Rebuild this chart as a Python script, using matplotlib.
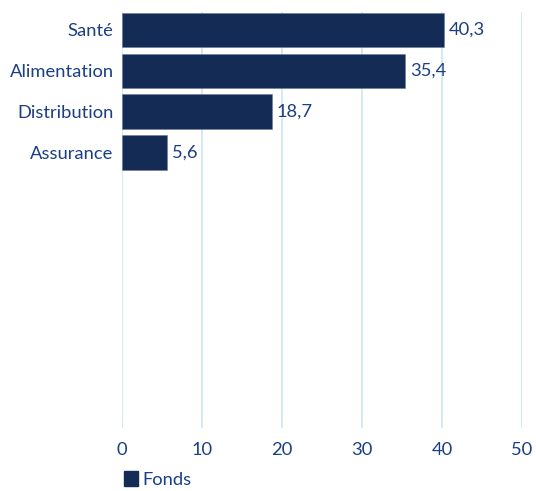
import matplotlib.pyplot as plt
from matplotlib.patches import Patch

categories = ["Santé", "Alimentation", "Distribution", "Assurance"]
values = [40.3, 35.4, 18.7, 5.6]
value_labels = ["40,3", "35,4", "18,7", "5,6"]
xticks = [0, 10, 20, 30, 40, 50]
series_name = "Fonds"

BAR = "#142b56"
TEXT = "#1a3f85"
GRID = "#cfe5ee"
FS = 13.2

plt.rcParams["font.family"] = ["Lato", "DejaVu Sans"]

fig = plt.figure(figsize=(5.36, 4.91), dpi=100)
ax = fig.add_axes([0.2276, 0.1283, 0.7463, 0.8473])

y = list(range(len(categories)))
bars = ax.barh(y, values, height=0.84, color=BAR, edgecolor="#6a7a96",
               linewidth=0.4, zorder=3, label=series_name)
for b, lab in zip(bars, value_labels):
    ax.text(b.get_width() + 0.6, b.get_y() + b.get_height() / 2, lab,
            va="center", ha="left", fontsize=FS, color=TEXT)

ax.set_xlim(0, 50)
ax.set_ylim(9.75, -0.44)
ax.set_xticks(xticks)
ax.set_xticklabels([str(t) for t in xticks], fontsize=FS, color=TEXT)
ax.set_yticks(y)
ax.set_yticklabels(categories, fontsize=FS, color=TEXT)
ax.tick_params(axis="y", length=0, pad=6)
ax.tick_params(axis="x", length=0, pad=10)
ax.grid(axis="x", color=GRID, linewidth=1.2, zorder=0)
for s in ax.spines.values():
    s.set_visible(False)

handle = Patch(facecolor=BAR, edgecolor=BAR)
fig.legend([handle], [series_name], loc="center left",
           bbox_to_anchor=(0.231, 0.023), frameon=False, fontsize=FS,
           labelcolor=TEXT, handlelength=0.75, handleheight=0.9,
           handletextpad=0.25, borderaxespad=0, borderpad=0)

plt.savefig("out.png", dpi=100)
